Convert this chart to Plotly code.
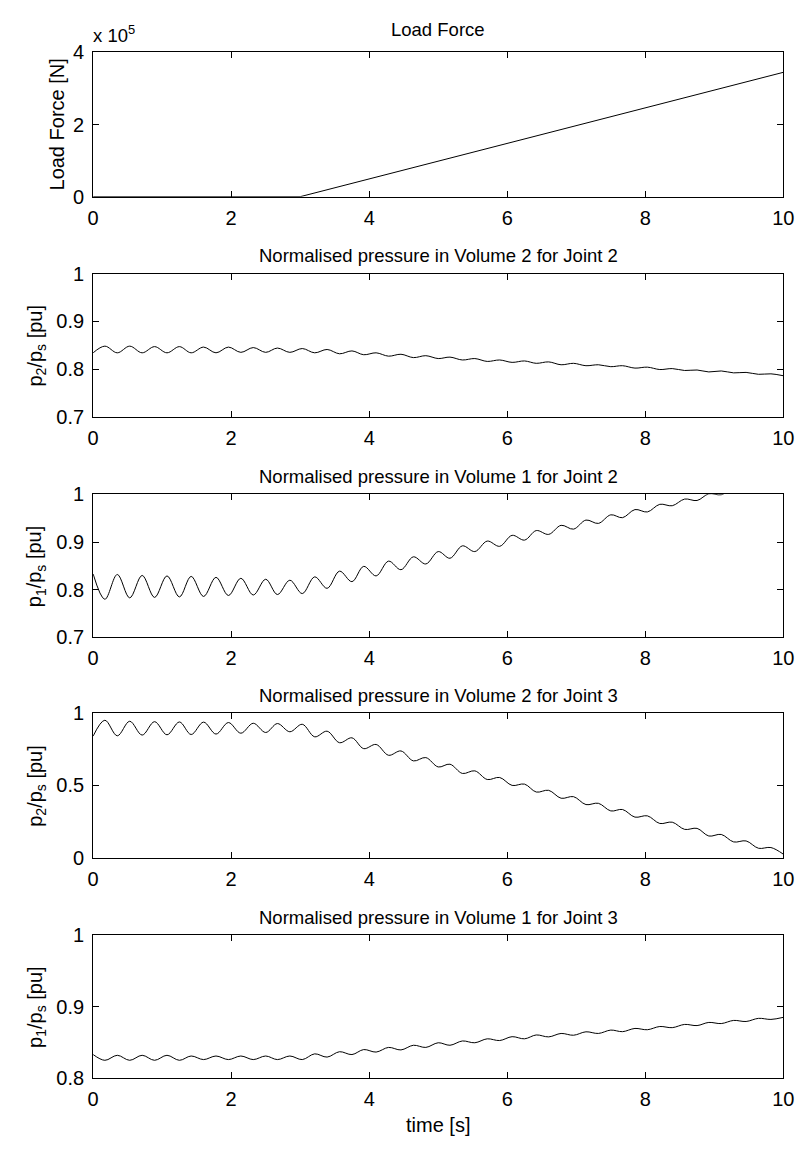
import plotly.graph_objects as go

W, H = 811, 1151

# ---------------- data ----------------
LOAD_T = [0.0, 3.0, 10.0]
LOAD_F = [0.0, 0.0, 3.45e5]   # [N]

# times of the successive extrema of the oscillating pressures [s]
T_EXT = [0.00, 0.17, 0.35, 0.53, 0.71, 0.89, 1.07, 1.25, 1.42, 1.60,
         1.78, 1.96, 2.14, 2.32, 2.50, 2.67, 2.85, 3.03, 3.21, 3.39,
         3.57, 3.75, 3.92, 4.10, 4.28, 4.46, 4.64, 4.82, 5.00, 5.17,
         5.35, 5.53, 5.71, 5.89, 6.07, 6.25, 6.42, 6.60, 6.78, 6.96,
         7.14, 7.32, 7.50, 7.67, 7.85, 8.03, 8.21, 8.39, 8.57, 8.75,
         8.92, 9.10, 9.28, 9.46, 9.64, 9.82, 10.00]

P2_J2 = [0.834, 0.848, 0.834, 0.848, 0.834, 0.847, 0.834, 0.847, 0.834, 0.846,
         0.834, 0.846, 0.835, 0.845, 0.835, 0.844, 0.835, 0.843, 0.834, 0.841,
         0.832, 0.838, 0.830, 0.834, 0.827, 0.831, 0.824, 0.828, 0.822, 0.825,
         0.819, 0.822, 0.816, 0.819, 0.814, 0.817, 0.812, 0.815, 0.809, 0.812,
         0.807, 0.809, 0.805, 0.807, 0.802, 0.804, 0.799, 0.801, 0.797, 0.798,
         0.794, 0.796, 0.792, 0.793, 0.789, 0.790, 0.786]

P1_J2 = [0.833, 0.780, 0.832, 0.783, 0.830, 0.784, 0.829, 0.785, 0.828, 0.786,
         0.826, 0.788, 0.824, 0.789, 0.822, 0.790, 0.820, 0.792, 0.827, 0.803,
         0.839, 0.817, 0.849, 0.829, 0.860, 0.842, 0.869, 0.854, 0.880, 0.866,
         0.892, 0.880, 0.902, 0.891, 0.914, 0.904, 0.924, 0.916, 0.935, 0.927,
         0.946, 0.939, 0.957, 0.951, 0.968, 0.963, 0.979, 0.976, 0.990, 0.987,
         1.001, 0.999, 1.012, 1.010, 1.023, 1.021, 1.030]

P2_J3 = [0.842, 0.952, 0.844, 0.945, 0.849, 0.942, 0.851, 0.940, 0.853, 0.939,
         0.856, 0.936, 0.862, 0.931, 0.867, 0.929, 0.872, 0.924, 0.837, 0.876,
         0.796, 0.830, 0.755, 0.784, 0.709, 0.739, 0.670, 0.693, 0.628, 0.647,
         0.583, 0.601, 0.541, 0.555, 0.500, 0.509, 0.454, 0.466, 0.411, 0.422,
         0.367, 0.376, 0.323, 0.333, 0.280, 0.289, 0.236, 0.245, 0.195, 0.202,
         0.149, 0.160, 0.108, 0.115, 0.064, 0.069, 0.023]

P1_J3 = [0.833, 0.825, 0.832, 0.825, 0.832, 0.825, 0.832, 0.825, 0.831, 0.826,
         0.831, 0.826, 0.831, 0.826, 0.831, 0.826, 0.831, 0.826, 0.834, 0.8295,
         0.837, 0.833, 0.840, 0.8365, 0.843, 0.8395, 0.846, 0.843, 0.8495, 0.846,
         0.852, 0.8495, 0.855, 0.8526, 0.858, 0.855, 0.8604, 0.8577, 0.8625, 0.860,
         0.8648, 0.8625, 0.8672, 0.865, 0.8695, 0.8677, 0.8722, 0.8706, 0.8751, 0.8735,
         0.8779, 0.8763, 0.8807, 0.8792, 0.8836, 0.8821, 0.885]

TITLES = ["Load Force",
          "Normalised pressure in Volume 2 for Joint 2",
          "Normalised pressure in Volume 1 for Joint 2",
          "Normalised pressure in Volume 2 for Joint 3",
          "Normalised pressure in Volume 1 for Joint 3"]
YLABELS = ["Load Force [N]",
           "p<sub>2</sub>/p<sub>s</sub> [pu]",
           "p<sub>1</sub>/p<sub>s</sub> [pu]",
           "p<sub>2</sub>/p<sub>s</sub> [pu]",
           "p<sub>1</sub>/p<sub>s</sub> [pu]"]
X_TICKS = [0, 2, 4, 6, 8, 10]
Y_TICKS = [[0, 2, 4], [0.7, 0.8, 0.9, 1.0], [0.7, 0.8, 0.9, 1.0],
           [0.0, 0.5, 1.0], [0.8, 0.9, 1.0]]
Y_TICKTEXT = [["0", "2", "4"], ["0.7", "0.8", "0.9", "1"], ["0.7", "0.8", "0.9", "1"],
              ["0", "0.5", "1"], ["0.8", "0.9", "1"]]
Y_RANGES = [[0, 4], [0.7, 1.0], [0.7, 1.0], [0.0, 1.0], [0.8, 1.0]]
SCALE_LABEL = "x 10<sup>5</sup>"
XLABEL = "time [s]"

# ---------------- layout geometry (pixels) ----------------
FONT = "Liberation Sans, Arial, Helvetica, sans-serif"
FS_TICK = 20
FS_LAB = 20
FS_TITLE = 18.5
X0, X1 = 89, 794
PANELS = [(42.3, 189.3), (267.7, 413.7), (492.7, 638.7), (716, 863), (942, 1088)]
TITLE_Y = [18.5, 249.7, 474.7, 698, 924]
YLAB_X = [52, 31, 31, 31, 31]


def py(p):
    return 1 - p / H


def px(p):
    return p / W


fig = go.Figure()

series = [
    (LOAD_T, [v / 1e5 for v in LOAD_F], "linear"),
    (T_EXT, P2_J2, "spline"),
    (T_EXT, P1_J2, "spline"),
    (T_EXT, P2_J3, "spline"),
    (T_EXT, P1_J3, "spline"),
]

annotations = []
for i, ((top, bot), (xs, ys, shape)) in enumerate(zip(PANELS, series)):
    n = "" if i == 0 else str(i + 1)
    fig.add_trace(go.Scatter(x=xs, y=ys, mode="lines",
                             line=dict(color="black", width=1, shape=shape, smoothing=1.0),
                             xaxis="x" + n, yaxis="y" + n, showlegend=False,
                             hoverinfo="skip"))
    axcommon = dict(showline=True, linecolor="black", linewidth=1, mirror="ticks",
                    ticks="inside", ticklen=6, tickcolor="black", tickwidth=1,
                    showgrid=False, zeroline=False,
                    tickfont=dict(family=FONT, size=FS_TICK, color="black"))
    fig.update_layout(**{
        "xaxis" + n: dict(domain=[px(X0), px(X1)], range=[0, 10], anchor="y" + n,
                          tickvals=X_TICKS, ticktext=[str(v) for v in X_TICKS],
                          ticklabelstandoff=3, **axcommon),
        "yaxis" + n: dict(domain=[py(bot), py(top)], range=Y_RANGES[i], anchor="x" + n,
                          tickvals=Y_TICKS[i], ticktext=Y_TICKTEXT[i],
                          ticklabelstandoff=4, **axcommon),
    })
    annotations.append(dict(text=TITLES[i], x=px((X0 + X1) / 2), y=py(TITLE_Y[i]),
                            xref="paper", yref="paper", xanchor="center", yanchor="middle",
                            showarrow=False, font=dict(family=FONT, size=FS_TITLE, color="black")))
    annotations.append(dict(text=YLABELS[i], x=px(YLAB_X[i]), y=py((top + bot) / 2),
                            xref="paper", yref="paper", xanchor="center", yanchor="middle",
                            textangle=-90, showarrow=False,
                            font=dict(family=FONT, size=FS_LAB, color="black")))

annotations.append(dict(text=SCALE_LABEL, x=px(X0 - 2), y=py(38), xref="paper", yref="paper",
                        xanchor="left", yanchor="bottom", showarrow=False,
                        font=dict(family=FONT, size=FS_TITLE, color="black")))
annotations.append(dict(text=XLABEL, x=px((X0 + X1) / 2), y=py(1136), xref="paper", yref="paper",
                        xanchor="center", yanchor="middle", showarrow=False,
                        font=dict(family=FONT, size=FS_LAB, color="black")))

fig.update_layout(width=W, height=H, margin=dict(l=0, r=0, t=0, b=0),
                  paper_bgcolor="white", plot_bgcolor="white",
                  annotations=annotations, showlegend=False)

fig.write_html("out.html", config={"displayModeBar": False})
